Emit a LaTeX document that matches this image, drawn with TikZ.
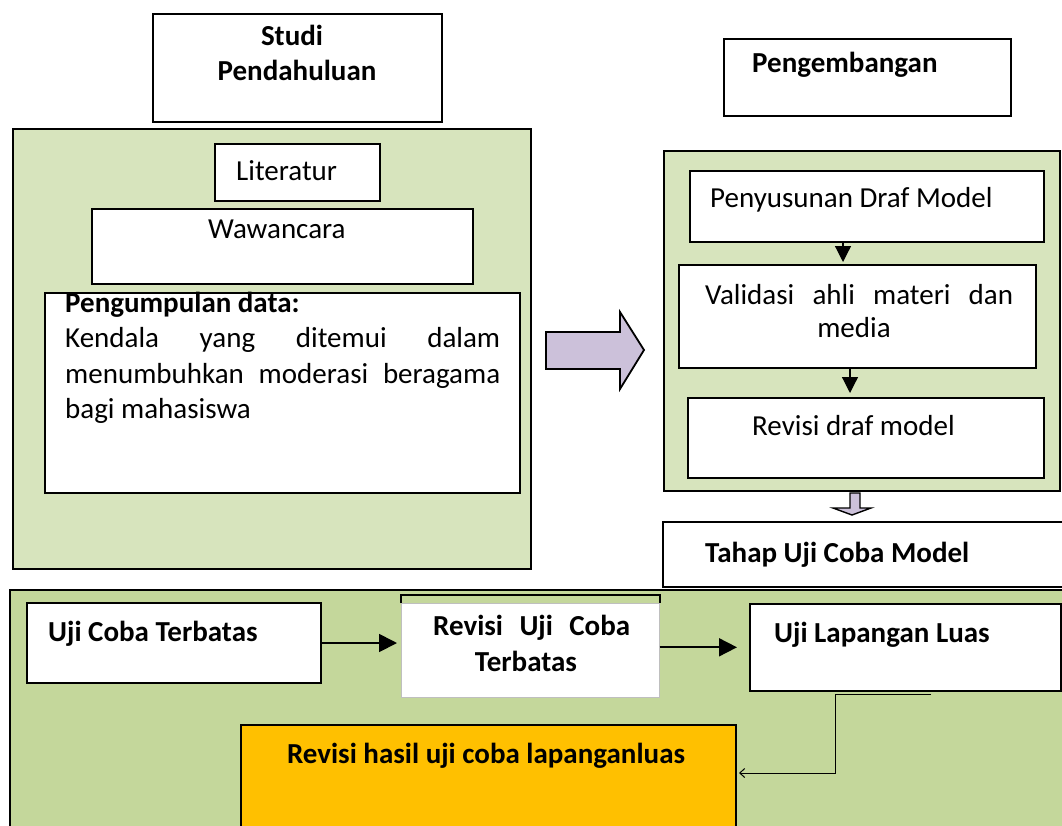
\documentclass[tikz,border=0pt]{standalone}
\usepackage{fontspec}
\setmainfont{Carlito}
\usetikzlibrary{arrows.meta,calc}
\definecolor{lgreen}{HTML}{D7E4BD}
\definecolor{bgreen}{HTML}{C4D79B}
\definecolor{lpurple}{HTML}{CCC1DA}
\definecolor{gold}{HTML}{FFC000}
\begin{document}
\begin{tikzpicture}[x=1pt,y=-1pt,
  box/.style={draw, line width=2pt, fill=white, inner sep=0, anchor=north west},
  panel/.style={draw, line width=2pt, inner sep=0, anchor=north west},
  txt/.style={inner sep=0, anchor=base west, font=\fontsize{29}{35}\selectfont},
  btxt/.style={txt, font=\fontsize{29}{35}\selectfont\bfseries},
  ctxt/.style={txt, anchor=base},
  cbtxt/.style={btxt, anchor=base},
  arr/.style={line width=1.8pt, -{Triangle[length=18pt,width=18pt]}},
  sarr/.style={line width=1.2pt, -{Triangle[length=16pt,width=16pt]}},
  tarr/.style={line width=1pt, -{Straight Barb[length=5pt,width=9pt]}},
  blockarrow/.style={draw, line width=1.8pt, fill=lpurple, line join=miter}]
\clip (0,0) rectangle (1062,825);
\fill[white] (0,0) rectangle (1062,825);

% ---- Studi Pendahuluan ----
\node[box, minimum width=289, minimum height=108] (studi) at (152,13) {};
\node[cbtxt] (studiT1) at (292,45) {Studi};
\node[cbtxt] (studiT2) at (297,80) {Pendahuluan};

% left panel
\node[panel, fill=lgreen, minimum width=518, minimum height=440] (lpanel) at (12,128) {};
\node[box, minimum width=165, minimum height=57] (lit) at (214,143) {};
\node[txt] (litT) at (236,180) {Literatur};
\node[box, minimum width=381, minimum height=75] (waw) at (91,208) {};
\node[txt] (wawT) at (208,238) {Wawancara};
\node[box, minimum width=475, minimum height=200] (peng) at (44,292) {};
\node[btxt] (pengT0) at (65,312) {Pengumpulan data:};
\node[txt] (pengT1) at (65,347) {\hbox to 435pt{Kendala\hfill yang\hfill ditemui\hfill dalam}};
\node[txt] (pengT2) at (65,383) {\hbox to 435pt{menumbuhkan\hfill moderasi\hfill beragama}};
\node[txt] (pengT3) at (65,418) {bagi mahasiswa};

% big arrow
\draw[blockarrow] (546,332) -- (620,332) -- (620,312) -- (644,350) -- (620,389) -- (620,369) -- (546,369) -- cycle;

% ---- Pengembangan ----
\node[box, minimum width=287, minimum height=77] (dev) at (723,38) {};
\node[btxt] (devT) at (752,72) {Pengembangan};

\node[panel, fill=lgreen, minimum width=396, minimum height=340] (rpanel) at (663,150) {};
\node[box, minimum width=354, minimum height=71] (pen) at (689,170) {};
\node[txt] (penT) at (710,207) {Penyusunan Draf Model};
\node[box, minimum width=357, minimum height=103] (val) at (678,264) {};
\node[txt] (valT1) at (705,304) {\hbox to 308pt{Validasi\hfill ahli\hfill materi\hfill dan}};
\node[ctxt] (valT2) at (854,337) {media};
\node[box, minimum width=356, minimum height=80] (rev) at (687,397) {};
\node[txt] (revT) at (752,435) {Revisi draf model};

\coordinate (ax1) at (843,0);
\coordinate (ax2) at (850,0);
\draw[sarr, shorten >=2pt] (pen.south -| ax1) -- (val.north -| ax1);
\draw[sarr, shorten >=4pt] (val.south -| ax2) -- (rev.north -| ax2);

% small down arrow
\draw[blockarrow, line width=1.4pt] (850,493) -- (860,493) -- (860,508) -- (871,508) -- (852,515) -- (833,508) -- (850,508) -- cycle;

% ---- Tahap Uji Coba Model ----
\node[box, minimum width=420, minimum height=65] (tahap) at (662,521) {};
\node[btxt] (tahapT) at (705,562) {Tahap Uji Coba Model};

% bottom panel
\node[panel, fill=bgreen, minimum width=1070, minimum height=260] (bpanel) at (9,589) {};
\node[box, minimum width=294, minimum height=80] (ujiT) at (26,602) {};
\node[btxt] (ujiTT) at (48,641) {Uji Coba Terbatas};
\node[box, draw=gray!50, line width=0.6pt, minimum width=258, minimum height=94] (revUT) at (401,603) {};
\draw[line width=2pt] (revUT.north west) -- ++(0,-8) -| (revUT.north east);
\node[btxt] (revUTT1) at (433,635) {\hbox to 197pt{Revisi\hfill Uji\hfill Coba}};
\node[cbtxt] (revUTT2) at (526,671) {Terbatas};
\node[box, minimum width=311, minimum height=87] (ujiL) at (749,603) {};
\node[btxt] (ujiLT) at (774,642) {Uji Lapangan Luas};
\node[box, fill=gold, minimum width=495, minimum height=130] (revH) at (240,724) {};
\node[cbtxt] (revHT) at (486,763) {Revisi hasil uji coba lapanganluas};

\draw[arr, shorten >=4pt] (ujiT.east) -- (ujiT.east -| revUT.west);
\draw[arr, shorten >=12pt] (revUT.east) ++(0,-3) -- ($(revUT.east -| ujiL.west)+(0,-3)$);
\coordinate (c0) at (931,694);
\coordinate (c1) at (835,773);
\draw[tarr, shorten >=2pt] (c0) -| (c1) -- (c1 -| revH.east);
\end{tikzpicture}
\end{document}
